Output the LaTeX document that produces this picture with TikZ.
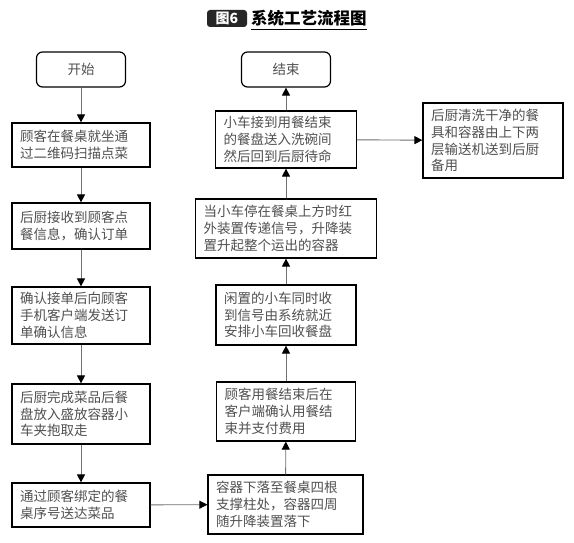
\documentclass[tikz,border=0pt]{standalone}
\usepackage{fontspec}
\newfontfamily\cjk{Noto Sans CJK SC}
\usetikzlibrary{arrows.meta}
\definecolor{txt}{HTML}{505050}
\definecolor{conn}{HTML}{707070}
\definecolor{titlebg}{HTML}{262626}
\tikzset{
  box/.style={draw=black, line width=1.2pt, fill=white, text=txt,
    font=\cjk\fontsize{13.5}{16.8}\selectfont, align=left, inner xsep=8pt, inner ysep=0pt},
  termbox/.style={draw=black, line width=1.2pt, fill=white, text=txt, rounded corners=6pt,
    font=\cjk\fontsize{13.5}{16.8}\selectfont, minimum width=89, minimum height=35},
  conn/.style={draw=conn, line width=0.9pt, -{Triangle[width=8pt,length=8pt,color=black]}}
}
\begin{document}
\begin{tikzpicture}[x=1pt,y=-1pt]
\useasboundingbox[fill=white] (0,0) rectangle (574,543);
% title
\node[fill=titlebg, rounded corners=3pt, minimum width=40, minimum height=17, inner sep=0pt,
  text=white, font=\cjk\bfseries\fontsize{14}{14}\selectfont] (tag) at (227,18.5) {图6};
\node[anchor=west, inner sep=0pt, text=black, font=\cjk\bfseries\fontsize{16.5}{17}\selectfont] (title) at (251,18.5) {系统工艺流程图};
\draw[line width=1pt] (title.south west) ++(0,3) coordinate (ul1) -- (title.south east |- ul1);
% left column
\node[termbox] (start) at (81,69.5) {开始};
\node[box, minimum width=138, minimum height=44, text width=122pt] (l1) at (81,145) {顾客在餐桌就坐通\\过二维码扫描点菜};
\node[box, minimum width=138, minimum height=46, text width=122pt] (l2) at (81,226) {后厨接收到顾客点\\餐信息，确认订单};
\node[box, minimum width=138, minimum height=57, text width=122pt] (l3) at (81,315.5) {确认接单后向顾客\\手机客户端发送订\\单确认信息};
\node[box, minimum width=138, minimum height=60, text width=122pt] (l4) at (81,414) {后厨完成菜品后餐\\盘放入盛放容器小\\车夹抱取走};
\node[box, minimum width=138, minimum height=44, text width=122pt] (l5) at (81,505) {通过顾客绑定的餐\\桌序号送达菜品};
% right column
\node[termbox] (end) at (286,69.5) {结束};
\node[box, minimum width=141, minimum height=57, text width=125pt] (r1) at (286,139.5) {小车接到用餐结束\\的餐盘送入洗碗间\\然后回到后厨待命};
\node[box, minimum width=181, minimum height=59, text width=165pt] (r2) at (286,228.5) {当小车停在餐桌上方时红\\外装置传递信号，升降装\\置升起整个运出的容器};
\node[box, minimum width=140, minimum height=60, text width=124pt] (r3) at (286,315) {闲置的小车同时收\\到信号由系统就近\\安排小车回收餐盘};
\node[box, minimum width=139, minimum height=59, text width=123pt] (r4) at (286,411.5) {顾客用餐结束后在\\客户端确认用餐结\\束并支付费用};
\node[box, minimum width=155, minimum height=59, text width=139pt] (r5) at (285.5,504.5) {容器下落至餐桌四根\\支撑柱处，容器四周\\随升降装置落下};
% side box
\node[box, minimum width=140, minimum height=75, text width=124pt] (side) at (493,140.5) {后厨清洗干净的餐\\具和容器由上下两\\层输送机送到后厨\\备用};
% connectors
\draw[conn] (start) -- (l1);
\draw[conn] (l1) -- (l2);
\draw[conn] (l2) -- (l3);
\draw[conn] (l3) -- (l4);
\draw[conn] (l4) -- (l5);
\draw[conn] (l5) -- (r5);
\draw[conn] (r5) -- (r4);
\draw[conn] (r4) -- (r3);
\draw[conn] (r3) -- (r2);
\draw[conn] (r2) -- (r1);
\draw[conn] (r1) -- (end);
\draw[conn] (r1) -- (side);
\end{tikzpicture}
\end{document}
